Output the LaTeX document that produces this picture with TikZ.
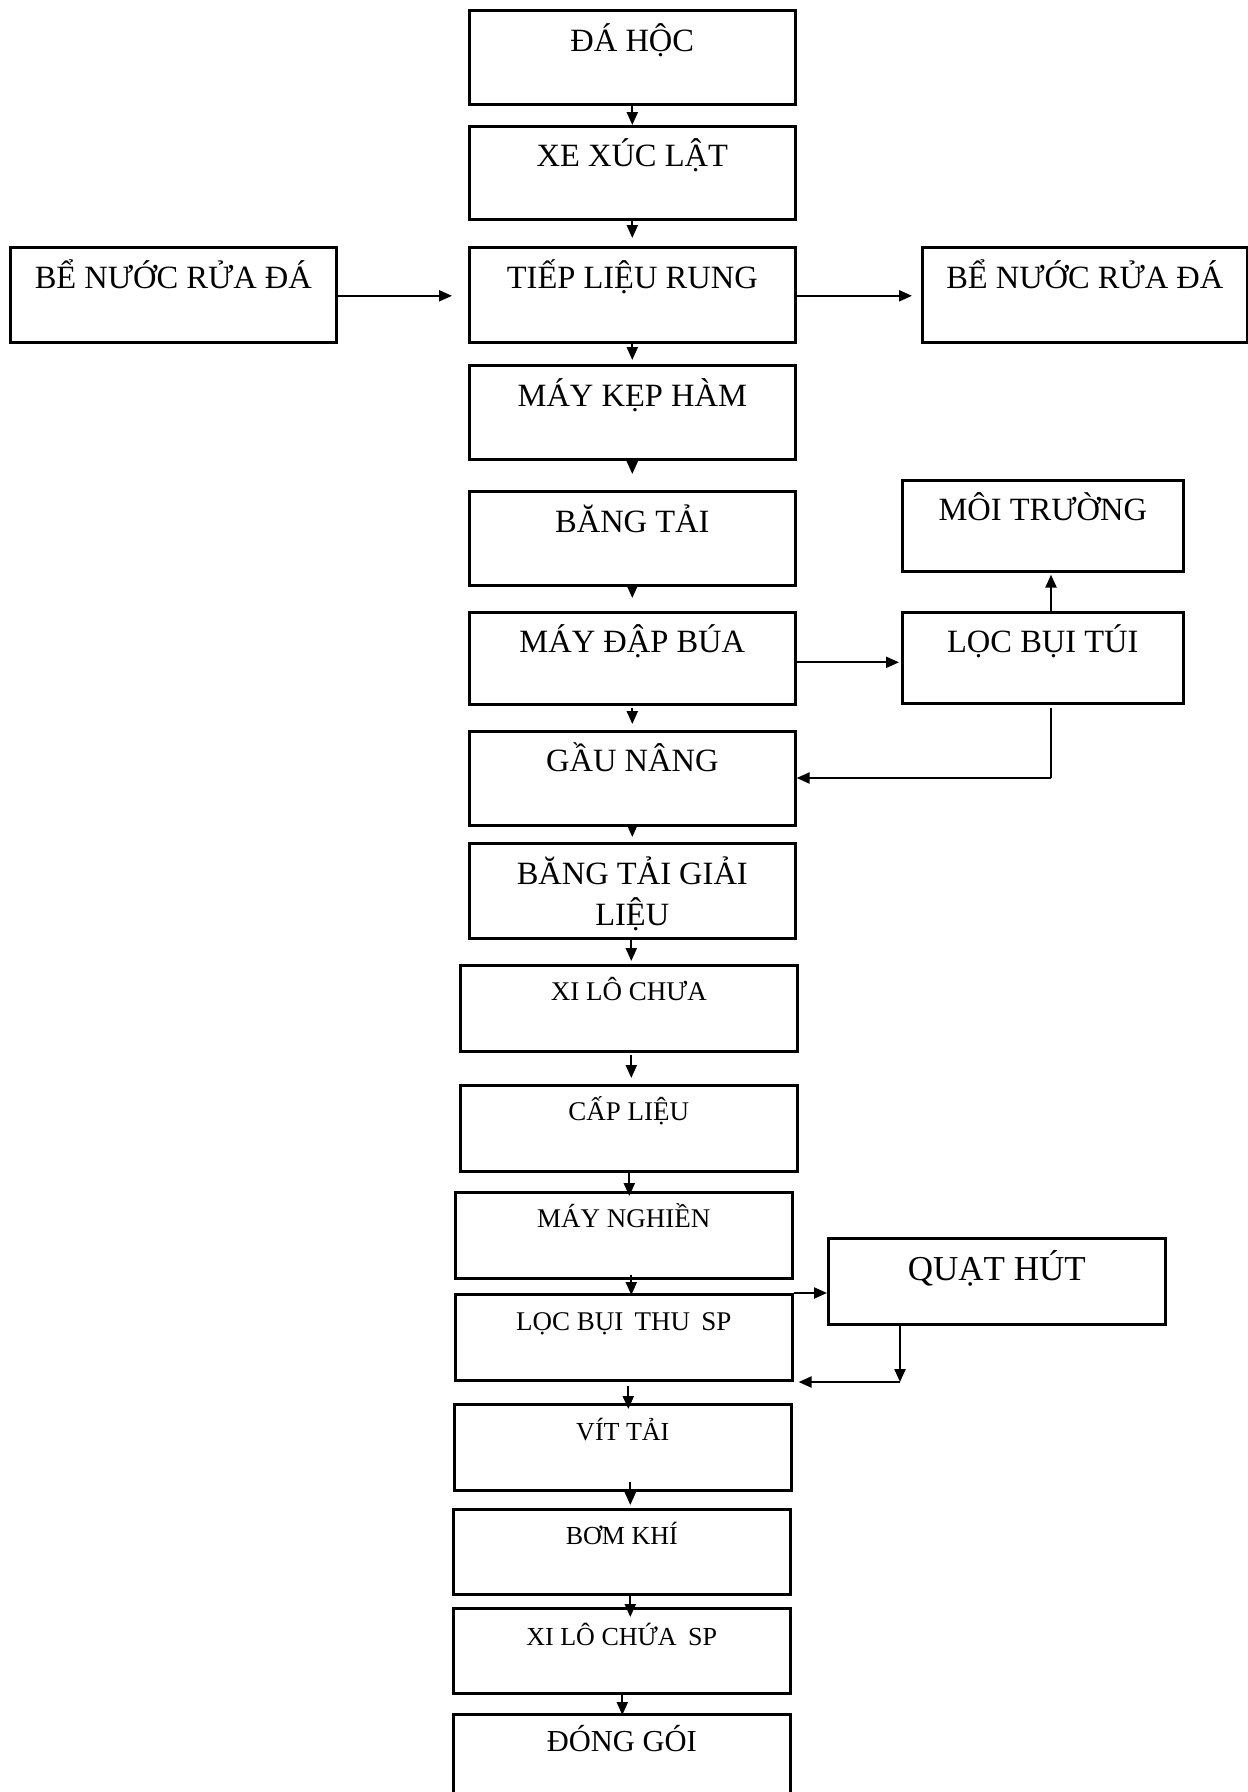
\documentclass[tikz,border=0pt]{standalone}
\usepackage{fontspec}
\setmainfont{Liberation Serif}
\usetikzlibrary{arrows.meta}
\newcommand\bigtxt{\fontsize{32.5}{40}\selectfont}
\newcommand\smltxt{\fontsize{27}{33}\selectfont}
\newcommand\smlbtxt{\fontsize{26}{32}\selectfont}
\tikzset{
  box/.style={draw, line width=2.6pt, rectangle, inner sep=0pt, anchor=north west},
  lbl/.style={anchor=base, inner sep=0pt, align=center},
  arr/.style={line width=2.2pt, -{Triangle[length=13pt,width=11pt]}},
  ln/.style={line width=2.2pt},
}
\begin{document}
\begin{tikzpicture}[x=1pt,y=-1pt]
\useasboundingbox[fill=white] (0,0) rectangle (1248,1792);
% boxes
\node[box, minimum width=326pt, minimum height=94pt] (dahoc) at (468,9) {};
\node[box, minimum width=326pt, minimum height=93pt] (xe) at (468,125) {};
\node[box, minimum width=326pt, minimum height=95pt] (tiep) at (468,246) {};
\node[box, minimum width=326pt, minimum height=95pt] (beL) at (9,246) {};
\node[box, minimum width=325pt, minimum height=95pt] (beR) at (921,246) {};
\node[box, minimum width=326pt, minimum height=94pt] (kep) at (468,364) {};
\node[box, minimum width=326pt, minimum height=94pt] (bang) at (468,490) {};
\node[box, minimum width=281pt, minimum height=91pt] (moi) at (901,479) {};
\node[box, minimum width=326pt, minimum height=92pt] (dap) at (468,611) {};
\node[box, minimum width=281pt, minimum height=91pt] (loc) at (901,611) {};
\node[box, minimum width=326pt, minimum height=94pt] (gau) at (468,730) {};
\node[box, minimum width=326pt, minimum height=95pt] (banggl) at (468,842) {};
\node[box, minimum width=337pt, minimum height=86pt] (xilo) at (459,964) {};
\node[box, minimum width=337pt, minimum height=86pt] (cap) at (459,1084) {};
\node[box, minimum width=337pt, minimum height=86pt] (nghien) at (454,1191) {};
\node[box, minimum width=337pt, minimum height=86pt] (quat) at (827,1237) {};
\node[box, minimum width=337pt, minimum height=86pt] (locsp) at (454,1293) {};
\node[box, minimum width=337pt, minimum height=86pt] (vit) at (453,1403) {};
\node[box, minimum width=337pt, minimum height=85pt] (bom) at (452,1508) {};
\node[box, minimum width=337pt, minimum height=85pt] (xilosp) at (452,1607) {};
\node[box, minimum width=337pt, minimum height=100pt] (dong) at (452,1713) {};
% labels
\node[lbl, font=\bigtxt] (dahoc-t) at ([yshift=-42pt]dahoc.north) {ĐÁ HỘC};
\node[lbl, font=\bigtxt] (xe-t) at ([yshift=-41pt]xe.north) {XE XÚC LẬT};
\node[lbl, font=\bigtxt] (tiep-t) at ([yshift=-42pt]tiep.north) {TIẾP LIỆU RUNG};
\node[lbl, font=\bigtxt] (beL-t) at ([yshift=-42pt]beL.north) {BỂ NƯỚC RỬA ĐÁ};
\node[lbl, font=\bigtxt] (beR-t) at ([yshift=-42pt]beR.north) {BỂ NƯỚC RỬA ĐÁ};
\node[lbl, font=\bigtxt] (kep-t) at ([yshift=-42pt]kep.north) {MÁY KẸP HÀM};
\node[lbl, font=\bigtxt] (bang-t) at ([yshift=-42pt]bang.north) {BĂNG TẢI};
\node[lbl, font=\bigtxt] (moi-t) at ([yshift=-41pt]moi.north) {MÔI TRƯỜNG};
\node[lbl, font=\bigtxt] (dap-t) at ([yshift=-41pt]dap.north) {MÁY ĐẬP BÚA};
\node[lbl, font=\bigtxt] (loc-t) at ([yshift=-41pt]loc.north) {LỌC BỤI TÚI};
\node[lbl, font=\bigtxt] (gau-t) at ([yshift=-41pt]gau.north) {GẦU NÂNG};
\node[lbl, font=\bigtxt] (banggl-t) at ([yshift=-42pt]banggl.north) {BĂNG TẢI GIẢI};
\node[lbl, font=\bigtxt] (banggl-t2) at ([yshift=-83pt]banggl.north) {LIỆU};
\node[lbl, font=\smltxt] (xilo-t) at ([yshift=-36pt]xilo.north) {XI LÔ CHƯA};
\node[lbl, font=\smltxt] (cap-t) at ([yshift=-36pt]cap.north) {CẤP LIỆU};
\node[lbl, font=\smltxt] (nghien-t) at ([yshift=-36pt]nghien.north) {MÁY NGHIỀN};
\node[lbl, font=\fontsize{35}{42}\selectfont] (quat-t) at ([yshift=-43pt]quat.north) {QUẠT HÚT};
\node[lbl, font=\smltxt] (locsp-t) at ([yshift=-37pt]locsp.north) {LỌC BỤI\hspace{0.42em}THU\hspace{0.42em}SP};
\node[lbl, font=\smlbtxt] (vit-t) at ([yshift=-37pt]vit.north) {VÍT TẢI};
\node[lbl, font=\smlbtxt] (bom-t) at ([yshift=-36pt]bom.north) {BƠM KHÍ};
\node[lbl, font=\smlbtxt] (xilosp-t) at ([yshift=-38pt]xilosp.north) {XI LÔ CHỨA\hspace{0.45em}SP};
\node[lbl, font=\fontsize{30.5}{37}\selectfont] (dong-t) at ([yshift=-38pt]dong.north) {ĐÓNG GÓI};
% vertical main arrows
\draw[arr] (dahoc.south) -- (dahoc.south |- xe.north);
\draw[arr, shorten >=8pt] (xe.south) -- (xe.south |- tiep.north);
\draw[arr, shorten >=4pt] (tiep.south) -- (tiep.south |- kep.north);
\draw[arr, shorten >=16pt] (kep.south) -- (kep.south |- bang.north);
\draw[arr, shorten <=-4pt, shorten >=13pt] (bang.south) -- (bang.south |- dap.north);
\draw[arr, shorten <=2pt, shorten >=6pt] (dap.south) -- (dap.south |- gau.north);
\draw[arr, shorten <=-7pt, shorten >=5pt] (gau.south) -- (gau.south |- banggl.north);
\draw[arr, shorten >=3pt] ([xshift=-1pt]banggl.south) -- ([xshift=-1pt]banggl.south |- xilo.north);
\draw[arr, shorten <=2pt, shorten >=6pt] ([xshift=2.5pt]xilo.south) -- ([xshift=2.5pt]xilo.south |- cap.north);
\draw[arr, shorten >=-5pt] ([xshift=0.5pt]cap.south) -- ([xshift=0.5pt]cap.south |- nghien.north);
\draw[arr, shorten <=-5pt, shorten >=-2pt] ([xshift=7.5pt]nghien.south) -- ([xshift=7.5pt]nghien.south |- locsp.north);
\draw[arr, shorten <=4pt, shorten >=-6pt] ([xshift=4.5pt]locsp.south) -- ([xshift=4.5pt]locsp.south |- vit.north);
\draw[arr, shorten <=-10pt, shorten >=3pt] ([xshift=7.5pt]vit.south) -- ([xshift=7.5pt]vit.south |- bom.north);
\draw[arr, shorten >=-10pt] ([xshift=8.5pt]bom.south) -- ([xshift=8.5pt]bom.south |- xilosp.north);
\draw[arr, shorten <=-3pt, shorten >=-2pt] ([xshift=0.5pt]xilosp.south) -- ([xshift=0.5pt]xilosp.south |- dong.north);
% side arrows
\draw[arr, shorten >=16pt] ([yshift=-1pt]beL.east) -- ([yshift=-1pt]beL.east -| tiep.west);
\draw[arr, shorten >=9pt] ([yshift=-1pt]tiep.east) -- ([yshift=-1pt]tiep.east -| beR.west);
\draw[arr, shorten >=2pt] ([yshift=-4pt]dap.east) -- ([yshift=-4pt]dap.east -| loc.west);
\coordinate (c1) at (1051,778);
\draw[arr, shorten >=2pt] (c1 |- loc.north) -- (c1 |- moi.south);
\draw[ln, shorten <=3pt] (c1 |- loc.south) -- (c1);
\draw[arr] (c1) -- (c1 -| gau.east);
\draw[arr] (locsp.north east) -- (locsp.north east -| quat.west);
\coordinate (c2) at (900,1382);
\draw[arr] (quat.south -| c2) -- (c2);
\draw[arr, shorten >=5pt] (c2) -- (c2 -| locsp.east);
\end{tikzpicture}
\end{document}
